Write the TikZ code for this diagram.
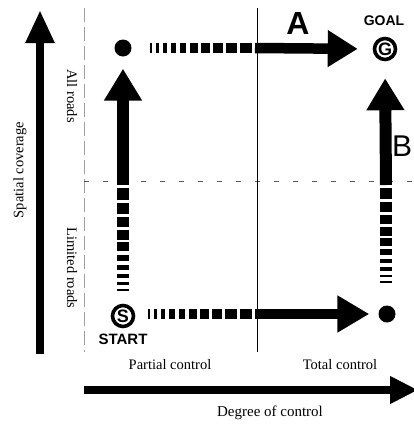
\documentclass[tikz,border=0pt]{standalone}
\usepackage{fontspec}
\setmainfont{Liberation Serif}
\setsansfont{Liberation Sans}
\usetikzlibrary{arrows.meta,calc}
\newcommand\gradash[3]{%
  \foreach \a/\b in {0/.02,.059/.088,.127/.167,.206/.255,.294/.353,.392/.471,.5/.588,.618/.716,.745/.853,.882/1}
    {\draw[line width=#3] ($(#1)!\a!(#2)$) -- ($(#1)!\b!(#2)$);}}
\begin{document}
\begin{tikzpicture}[x=1pt,y=-1pt,
  dotnode/.style={circle,fill=black,inner sep=0pt,minimum size=17pt},
  ringnode/.style={circle,draw=black,line width=3.6pt,inner sep=0pt,minimum size=21pt,
    font=\sffamily\bfseries\fontsize{18}{18}\selectfont},
  axislabel/.style={font=\fontsize{14.5}{15}\selectfont,inner sep=0pt},
  tag/.style={font=\sffamily\bfseries\fontsize{14}{14}\selectfont,inner sep=0pt},
  harrow/.style={line width=10.5pt,-{Triangle[length=30pt,width=35pt]}},
  varrow/.style={line width=12pt,-{Triangle[length=32pt,width=36pt]}},
  axisarrow/.style={line width=8.5pt,-{Triangle[length=33pt,width=27pt]}}]
\useasboundingbox (0,0) rectangle (414,424);
% guide lines
\draw[gray!75,line width=0.9pt,dash pattern=on 14pt off 5pt] (84,8) -- (84,352);
\draw[gray!70!black,line width=0.8pt,dash pattern=on 5pt off 14pt] (84,181) -- (414,181);
\draw[line width=0.8pt] (257,8) -- (257,352);
% nodes
\node[dotnode] (dotTL) at (123,48) {};
\node[ringnode] (G) at (385,49) {G};
\node[ringnode] (S) at (123,316) {S};
\node[dotnode] (dotBR) at (387,314) {};
\node[tag] (goal) at (384,21) {GOAL};
\node[tag,font=\sffamily\bfseries\fontsize{15}{15}\selectfont] (start) at (123,339) {START};
\node[font=\sffamily\bfseries\fontsize{32}{32}\selectfont,inner sep=0pt] (labA) at (298,23) {A};
\node[font=\sffamily\fontsize{30}{30}\selectfont,inner sep=0pt,anchor=west] (labB) at (392,146) {B};
% axis labels
\node[axislabel,rotate=-90] (allroads) at (72,96) {All roads};
\node[axislabel,rotate=-90] (limroads) at (72,268) {Limited roads};
\node[axislabel,rotate=90] (vlabel) at (20,170) {Spatial coverage};
\node[axislabel] (partial) at (170,365) {Partial control};
\node[axislabel] (total) at (340,365) {Total control};
\node[axislabel,font=\fontsize{15}{15}\selectfont] (degree) at (270,413) {Degree of control};
% axes
\coordinate (vaxB) at (40,354);
\coordinate (vaxT) at (40,10);
\coordinate (haxL) at (84,390);
\coordinate (haxR) at (418,390);
\draw[axisarrow] (vaxB) -- (vaxT);
\draw[axisarrow,-{Triangle[length=28pt,width=26pt]}] (haxL) -- (haxR);
% path A : top
\coordinate (aDs) at (150,48);
\coordinate (aDe) at (252,48);
\coordinate (aJ) at (255,48);
\gradash{aDs}{aDe}{10.5pt}
\draw[harrow,shorten >=15pt] (aJ) -- (G.west);
% bottom horizontal
\coordinate (bDs) at (148,314);
\coordinate (bDe) at (252,314);
\coordinate (bJ) at (255,314);
\gradash{bDs}{bDe}{10.5pt}
\draw[harrow,-{Triangle[length=32pt,width=35pt]},shorten >=9pt] (bJ) -- (dotBR.west);
% left vertical
\coordinate (lDs) at (123,291);
\coordinate (lDe) at (123,188);
\coordinate (lJ) at (123,185);
\gradash{lDs}{lDe}{12pt}
\draw[varrow,shorten >=12pt] (lJ) -- (dotTL.south);
% right vertical
\coordinate (rDs) at (386,283);
\coordinate (rDe) at (386,188);
\coordinate (rJ) at (386,185);
\gradash{rDs}{rDe}{12pt}
\draw[varrow,shorten >=17pt] (rJ) -- (G.south);
\end{tikzpicture}
\end{document}
